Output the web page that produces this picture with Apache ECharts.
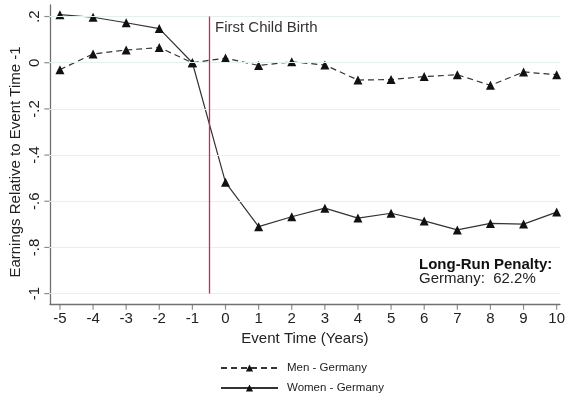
<!DOCTYPE html>
<html>
<head>
<meta charset="utf-8">
<script src="https://cdn.jsdelivr.net/npm/echarts@6/dist/echarts.min.js"></script>
<style>html,body{margin:0;padding:0;background:#fff}#c{width:568px;height:398px}</style>
</head>
<body>
<div id="c"></div>
<script>
var eventTimes = [-5,-4,-3,-2,-1,0,1,2,3,4,5,6,7,8,9,10];
var menGermany = [-0.03,0.038,0.055,0.066,0,0.02,-0.012,0.004,-0.01,-0.075,-0.073,-0.06,-0.052,-0.098,-0.04,-0.052];
var womenGermany = [0.208,0.197,0.173,0.148,0,-0.518,-0.71,-0.667,-0.63,-0.673,-0.652,-0.685,-0.724,-0.696,-0.699,-0.647];
var yTicks = [0.2,0,-0.2,-0.4,-0.6,-0.8,-1];
var yTickLabels = ['.2','0','-.2','-.4','-.6','-.8','-1'];
var xTicks = [-5,-4,-3,-2,-1,0,1,2,3,4,5,6,7,8,9,10];
var eventLine = -0.5;
var xMin = -5.3, xMax = 10.1, yMin = -1.045, yMax = 0.25;

var font = 'Liberation Sans, Arial, sans-serif';
var axisColor = '#707070';
function pairs(vals){ return eventTimes.map(function(t,i){ return [t, vals[i]]; }); }
var ylabMap = {}; yTicks.forEach(function(v,i){ ylabMap[v.toFixed(1)] = yTickLabels[i]; });

var chart = echarts.init(document.getElementById('c'), null, {renderer:'canvas'});
chart.setOption({
  animation:false,
  backgroundColor:'#fff',
  grid:{left:50,right:6,top:5,bottom:94},
  xAxis:{
    type:'value', min:xMin, max:xMax,
    axisLine:{onZero:false,lineStyle:{color:axisColor,width:1.3}},
    axisTick:{show:false},
    axisLabel:{color:'#222',fontSize:15,fontFamily:font,margin:7,customValues:xTicks,formatter:function(v){return String(v);}},
    splitLine:{show:false},
    name:'Event Time (Years)', nameLocation:'middle', nameGap:26,
    nameTextStyle:{color:'#222',fontSize:15,fontFamily:font}
  },
  yAxis:{
    type:'value', min:yMin, max:yMax,
    axisLine:{show:true,onZero:false,lineStyle:{color:axisColor,width:1.3}},
    axisTick:{show:false},
    axisLabel:{color:'#222',fontSize:15,fontFamily:font,rotate:90,margin:8,customValues:yTicks,
      formatter:function(v){ var k=Number(v).toFixed(1); return ylabMap[k]!==undefined?ylabMap[k]:''; }},
    splitLine:{show:false}
  },
  legend:{
    orient:'vertical', left:220, top:361, padding:0, itemGap:6, itemWidth:57, itemHeight:9,
    textStyle:{color:'#222',fontSize:11.5,lineHeight:14,fontFamily:font,padding:[0,0,0,4]},
    data:['Men - Germany','Women - Germany']
  },
  graphic:[
    {type:'text',x:16,y:162,rotation:Math.PI/2,style:{text:'Earnings Relative to Event Time -1',fill:'#222',font:'15px '+font,align:'center',verticalAlign:'middle'}},
    {type:'text',left:215,top:20,style:{text:'First Child Birth',fill:'#333',font:'15px '+font}},
    {type:'text',left:419,top:257,style:{text:'Long-Run Penalty:',fill:'#111',font:'bold 15px '+font}},
    {type:'text',left:419,top:271,style:{text:'Germany:  62.2%',fill:'#222',font:'15px '+font}}
  ],
  series:[
    {
      name:'xTicks', type:'scatter', silent:true, clip:false, z:1,
      data:xTicks.map(function(t){ return [t, yMin]; }),
      symbol:'rect', symbolSize:[1.2,5], symbolOffset:[0,3.2],
      itemStyle:{color:axisColor}
    },
    {
      name:'yTicks', type:'scatter', silent:true, clip:false, z:1,
      data:yTicks.map(function(v){ return [xMin, v]; }),
      symbol:'rect', symbolSize:[5,1.2], symbolOffset:[-3.2,0],
      itemStyle:{color:axisColor}
    },
    {
      name:'Men - Germany', type:'line', data:pairs(menGermany),
      symbol:'triangle', symbolSize:9,
      lineStyle:{color:'#333',width:1.2,type:[6,4]},
      itemStyle:{color:'#111'},
      markLine:{
        silent:true, symbol:'none', label:{show:false}, animation:false,
        lineStyle:{color:'#e6eff0',width:1,type:'solid'},
        data:yTicks.map(function(v){ return {yAxis:v}; })
      },
      z:3
    },
    {
      name:'Women - Germany', type:'line', data:pairs(womenGermany),
      symbol:'triangle', symbolSize:9,
      lineStyle:{color:'#333',width:1.2,type:'solid'},
      itemStyle:{color:'#111'},
      markLine:{
        silent:true, symbol:'none', label:{show:false}, animation:false,
        lineStyle:{color:'#d0245a',width:1.3,type:'solid'},
        data:[[{coord:[eventLine,0.2]},{coord:[eventLine,-1]}]]
      },
      z:4
    }
  ]
});
</script>
</body>
</html>
